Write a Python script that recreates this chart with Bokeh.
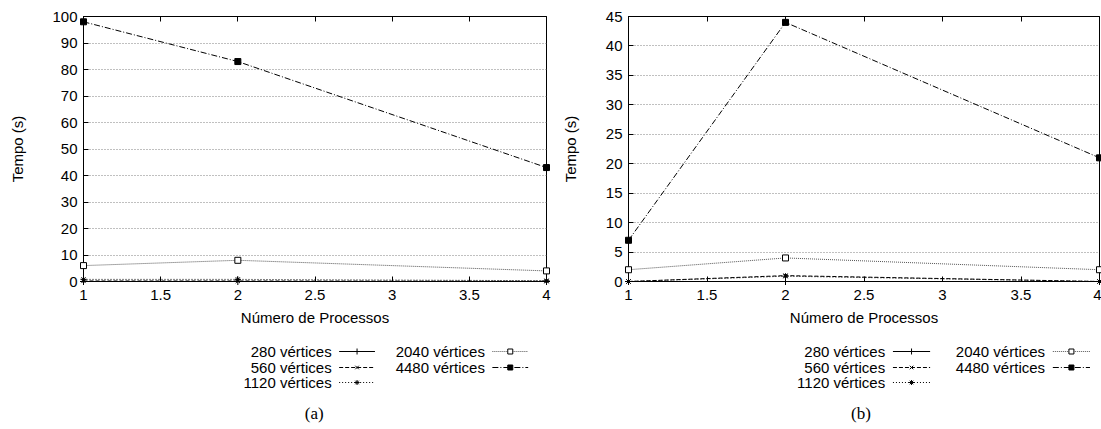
from bokeh.plotting import figure
from bokeh.layouts import row, column
from bokeh.models import Range1d, FixedTicker, LinearAxis
from bokeh.core.properties import value
from bokeh.embed import file_html
from bokeh.resources import INLINE

# ---------------- data ----------------
procs = [1, 2, 4]
series_names = ["280 vértices", "560 vértices", "1120 vértices", "2040 vértices", "4480 vértices"]

a_280 = [0, 0, 0]
a_560 = [0.2, 0.2, 0.1]
a_1120 = [0.8, 0.8, 0.3]
a_2040 = [6, 8, 4]
a_4480 = [98, 83, 43]

b_280 = [0, 0, 0]
b_560 = [0, 1, 0]
b_1120 = [0, 0.9, 0]
b_2040 = [2, 4, 2]
b_4480 = [7, 44, 21]

x_ticks = [1, 1.5, 2, 2.5, 3, 3.5, 4]
x_tick_labels = ["1", "1.5", "2", "2.5", "3", "3.5", "4"]
a_y_ticks = [0, 10, 20, 30, 40, 50, 60, 70, 80, 90, 100]
b_y_ticks = [0, 5, 10, 15, 20, 25, 30, 35, 40, 45]

x_label = "Número de Processos"
y_label = "Tempo (s)"
captions = ["(a)", "(b)"]

# ---------------- styles ----------------
FONT = "Liberation Sans"
SERIF = "Liberation Serif"
styles = [
    dict(dash="solid", marker="cross", fill="black", size=7, color="black"),
    dict(dash="4 2", marker="x", fill="black", size=6, color="black"),
    dict(dash="1 2", marker="asterisk", fill="black", size=6, color="black"),
    dict(dash="1 1", marker="square", fill="white", size=6, color="#555555"),
    dict(dash="6 2 1 2", marker="square", fill="black", size=6, color="black"),
]

PLOT_H = 336
LEG_H = 93
TOP = 16
FRAME_H = 265


def make_panel(series, yticks, ymax, width, bl, br, ylab_standoff):
    p = figure(width=width, height=PLOT_H, x_range=Range1d(1, 4), y_range=Range1d(0, ymax),
               output_backend="svg", toolbar_location=None,
               min_border_left=bl, min_border_right=br, min_border_top=TOP,
               min_border_bottom=PLOT_H - TOP - FRAME_H)
    p.outline_line_color = "black"
    p.outline_line_width = 1
    p.outline_line_alpha = 1
    p.xgrid.visible = False
    p.ygrid.grid_line_color = "#808080"
    p.ygrid.grid_line_dash = "1 2"
    p.ygrid.grid_line_width = 1

    p.xaxis.ticker = FixedTicker(ticks=x_ticks)
    p.xaxis.major_label_overrides = {t: l for t, l in zip(x_ticks, x_tick_labels)}
    p.yaxis.ticker = FixedTicker(ticks=yticks)
    p.xaxis.axis_label = x_label
    p.yaxis.axis_label = y_label

    for ax in p.axis:
        ax.major_tick_in = 5
        ax.major_tick_out = 0
        ax.minor_tick_in = 0
        ax.minor_tick_out = 0
        ax.axis_line_color = "black"
        ax.major_tick_line_color = "black"
        ax.major_label_text_font = FONT
        ax.major_label_text_font_size = "15px"
        ax.major_label_text_color = "black"
        ax.axis_label_text_font = FONT
        ax.axis_label_text_font_size = "15px"
        ax.axis_label_text_font_style = "normal"
        ax.axis_label_text_color = "black"
    p.xaxis.major_label_standoff = 8
    p.xaxis.axis_label_standoff = 6
    p.yaxis.major_label_standoff = 6
    p.yaxis.axis_label_standoff = ylab_standoff

    top = LinearAxis(ticker=FixedTicker(ticks=x_ticks), major_tick_in=5, major_tick_out=0,
                     minor_tick_in=0, minor_tick_out=0, major_label_text_color=None,
                     major_label_text_font_size="1px",
                     major_label_standoff=0, axis_line_color="black")
    p.add_layout(top, "above")

    for ys, st in zip(series, styles):
        p.line(procs, ys, line_color=st["color"], line_width=1, line_dash=st["dash"])
    for ys, st in zip(series, styles):
        r = p.scatter(procs, ys, marker=st["marker"], size=st["size"], line_color="black",
                      fill_color=st["fill"], line_width=1)
        r.level = "overlay"
    return p


def make_legend(width, col1_right, col2_right, sample_len, caption, cap_x):
    lg = figure(width=width, height=LEG_H, x_range=Range1d(0, width), y_range=Range1d(LEG_H, 0),
                output_backend="svg", toolbar_location=None, min_border=0,
                x_axis_type=None, y_axis_type=None)
    lg.outline_line_color = None
    lg.grid.visible = False
    rows_y = [15, 31, 46]
    pos = [(col1_right, rows_y[0]), (col1_right, rows_y[1]), (col1_right, rows_y[2]),
           (col2_right, rows_y[0]), (col2_right, rows_y[1])]
    for name, st, (xr, yy) in zip(series_names, styles, pos):
        lg.text(x=[xr], y=[yy], text=[name], text_align="right", text_baseline="middle",
                text_font=value(FONT), text_font_size="15px", text_color="black")
        x0 = xr + 9
        x1 = x0 + sample_len
        lg.segment(x0=[x0], y0=[yy], x1=[x1], y1=[yy], line_color=st["color"],
                   line_width=1, line_dash=st["dash"])
        lg.scatter(x=[(x0 + x1) / 2], y=[yy], marker=st["marker"], size=st["size"] - 1,
                   line_color="black", fill_color=st["fill"], line_width=1)
    lg.text(x=[cap_x], y=[77], text=[caption], text_align="center", text_baseline="middle",
            text_font=value(SERIF), text_font_size="17px", text_color="black")
    return lg


pa = make_panel([a_280, a_560, a_1120, a_2040, a_4480], a_y_ticks, 100, 556, 83, 10, 23)
pb = make_panel([b_280, b_560, b_1120, b_2040, b_4480], b_y_ticks, 45, 545, 72, 2, 24)

la = make_legend(556, 298, 482, 43, captions[0], 277)
lb = make_legend(545, 853 - 556, 1038 - 556, 43, captions[1], 825 - 556)

layout = row(column(pa, la), column(pb, lb))

open("out.html", "w").write(file_html(layout, INLINE))
